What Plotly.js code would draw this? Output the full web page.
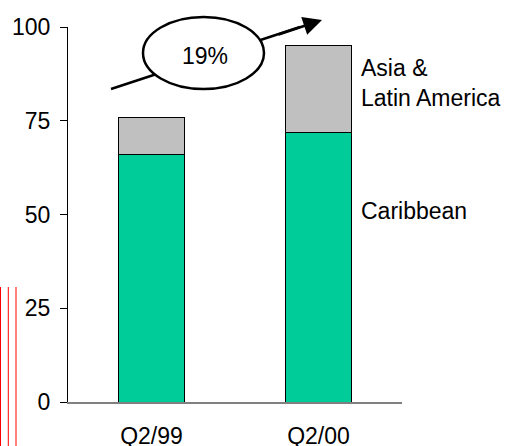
<!DOCTYPE html>
<html>
<head>
<meta charset="utf-8">
<script src="https://cdn.plot.ly/plotly-3.0.1.min.js"></script>
<style>
  html, body { margin: 0; padding: 0; background: #ffffff; }
  #chart { width: 512px; height: 446px; }
</style>
</head>
<body>
<div id="chart"></div>
<script>
// Quarterly volume by region
const quarters = ['Q2/99', 'Q2/00'];
const caribbean = [66, 72];
const asiaLatAm = [10, 23];
const seriesNames = ['Caribbean', 'Asia &<br>Latin America'];
const yTicks = [0, 25, 50, 75, 100];
const growthLabel = '19%';

const FONT = 'Liberation Sans, Arial, sans-serif';
const FS = 23;

const traces = [
  {
    type: 'bar', x: quarters, y: caribbean, name: seriesNames[0],
    marker: { color: '#00CC99', line: { color: '#000000', width: 1 } },
    hoverinfo: 'skip'
  },
  {
    type: 'bar', x: quarters, y: asiaLatAm, name: seriesNames[1],
    marker: { color: '#C0C0C0', line: { color: '#000000', width: 1 } },
    hoverinfo: 'skip'
  }
];

// Plot area: 334 x 375 px, starting at (68, 27)
const W = 334, H = 375, L = 68, T = 27;
const px = x => (x - L) / W;
const py = y => (T + H - y) / H;

const lastIdx = quarters.length - 1;

const layout = {
  width: 512, height: 446,
  margin: { l: L, r: 512 - L - W, t: T, b: 446 - T - H, pad: 0 },
  paper_bgcolor: '#ffffff', plot_bgcolor: '#ffffff',
  showlegend: false,
  barmode: 'stack',
  bargap: 0.6,
  font: { family: FONT, size: FS, color: '#000000' },
  xaxis: {
    type: 'category', range: [-0.5, 1.5],
    showline: true, linecolor: '#808080', linewidth: 1.5,
    ticks: '', showgrid: false, zeroline: false,
    ticklabelstandoff: 13,
    tickfont: { family: FONT, size: FS, color: '#000000' }
  },
  yaxis: {
    range: [0, 100], tickvals: yTicks, ticktext: yTicks.map(String),
    showline: true, linecolor: '#000000', linewidth: 1,
    ticks: 'outside', ticklen: 7, tickwidth: 1, tickcolor: '#000000',
    showgrid: false, zeroline: false,
    ticklabelstandoff: 5,
    tickfont: { family: FONT, size: FS, color: '#000000' }
  },
  shapes: [
    // growth arrow shaft
    { type: 'line', xref: 'paper', yref: 'paper',
      x0: px(111), y0: py(89), x1: px(300), y1: py(27),
      line: { color: '#000000', width: 2.5 } },
    // growth bubble
    { type: 'circle', xref: 'paper', yref: 'paper',
      x0: px(143), y0: py(89), x1: px(264), y1: py(17),
      fillcolor: '#ffffff', line: { color: '#000000', width: 2.5 } },
    // revision bars in the left margin
    { type: 'line', xref: 'paper', yref: 'paper',
      x0: px(0.5), x1: px(0.5), y0: py(287), y1: py(446),
      line: { color: '#FF0000', width: 1 } },
    { type: 'line', xref: 'paper', yref: 'paper',
      x0: px(8.3), x1: px(8.3), y0: py(287), y1: py(446),
      line: { color: '#FF0000', width: 1 } },
    { type: 'line', xref: 'paper', yref: 'paper',
      x0: px(16), x1: px(16), y0: py(287), y1: py(446),
      line: { color: '#FF0000', width: 1 } }
  ],
  annotations: [
    // arrow head
    { xref: 'paper', yref: 'paper', x: px(322), y: py(20),
      text: '', showarrow: true, arrowhead: 2, arrowsize: 1.5, arrowwidth: 2.5,
      arrowcolor: '#000000', ax: -45, ay: 15, standoff: 0 },
    { xref: 'paper', yref: 'paper', x: px(205), y: py(56),
      text: growthLabel, showarrow: false, xanchor: 'center', yanchor: 'middle',
      font: { family: FONT, size: FS, color: '#000000' } },
    // series labels beside the last bar
    { xref: 'x', yref: 'y', x: lastIdx + 0.245,
      y: caribbean[lastIdx] / 2 + 15,
      text: seriesNames[0], showarrow: false, xanchor: 'left', yanchor: 'middle', align: 'left',
      font: { family: FONT, size: FS, color: '#000000' } },
    { xref: 'x', yref: 'y', x: lastIdx + 0.245,
      y: caribbean[lastIdx] + asiaLatAm[lastIdx] / 2 + 1.5,
      text: seriesNames[1], showarrow: false, xanchor: 'left', yanchor: 'middle', align: 'left',
      font: { family: FONT, size: FS, color: '#000000' } }
  ]
};

Plotly.newPlot('chart', traces, layout, { staticPlot: true, displayModeBar: false });
</script>
</body>
</html>
